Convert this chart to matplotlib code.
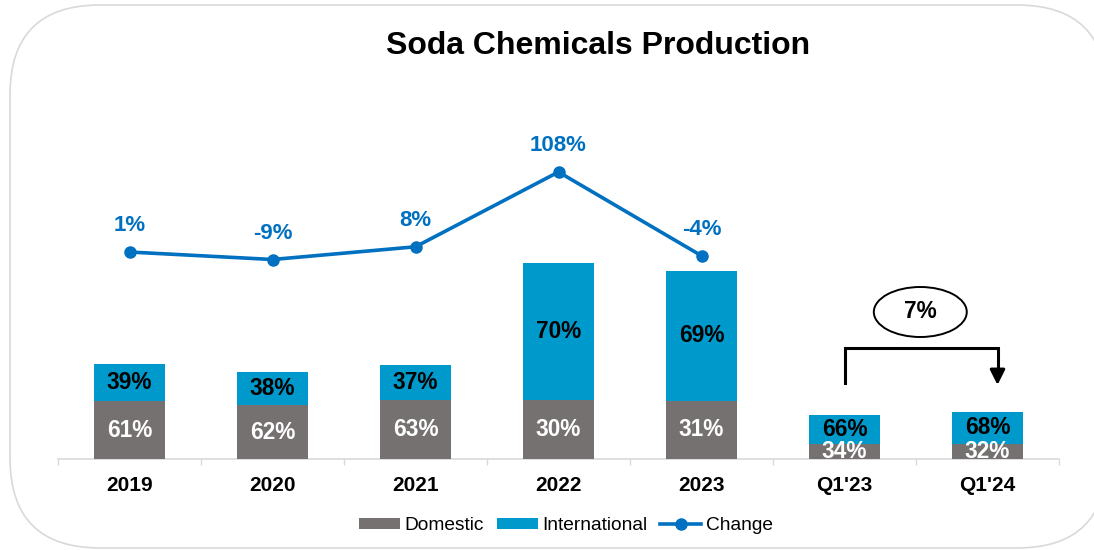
import numpy as np
import matplotlib
matplotlib.use("Agg")
import matplotlib.pyplot as plt
from matplotlib.patches import FancyBboxPatch, Ellipse, Patch
from matplotlib.lines import Line2D

# ---- data -------------------------------------------------------------
categories = ["2019", "2020", "2021", "2022", "2023", "Q1'23", "Q1'24"]
totals = [95, 87, 94, 196, 188, 44, 47]            # production volume (relative units)
domestic_share = [61, 62, 63, 30, 31, 34, 32]       # % of total
international_share = [39, 38, 37, 70, 69, 66, 68]  # % of total
change = [1, -9, 8, 108, -4, np.nan, np.nan]        # YoY change, %
quarter_change_label = "7%"

# ---- style ------------------------------------------------------------
GRAY = "#767171"
BLUE = "#0099CC"
LINE_BLUE = "#0070C0"
FONT = "Liberation Sans"
plt.rcParams["font.family"] = [FONT, "DejaVu Sans"]

W, H, DPI = 1094, 550, 100
fig = plt.figure(figsize=(W / DPI, H / DPI), dpi=DPI)
fig.patch.set_facecolor("white")

# rounded frame around the whole chart
frame = FancyBboxPatch((10 / DPI, (H - 548) / DPI), (1107 - 10) / DPI, (548 - 5) / DPI,
                       boxstyle="round,pad=0,rounding_size=0.9",
                       transform=fig.dpi_scale_trans, facecolor="white",
                       edgecolor="#D9D9D9", linewidth=1.2, zorder=-10)
fig.patches.append(frame)

# plot area in pixel terms
x0, x1 = 58, 1059
y_base, y_top = 459, 60
ax = fig.add_axes([x0 / W, (H - y_base) / H, (x1 - x0) / W, (y_base - y_top) / H])
ax.set_facecolor("none")

x = np.arange(len(categories))
dom = np.array(totals) * np.array(domestic_share) / 100.0
intl = np.array(totals) * np.array(international_share) / 100.0

bar_w = 0.5
dom_bars = ax.bar(x, dom, width=bar_w, color=GRAY, zorder=2)
int_bars = ax.bar(x, intl, width=bar_w, bottom=dom, color=BLUE, zorder=2)

ax.set_xlim(-0.5, len(categories) - 0.5)
ax.set_ylim(0, y_base - y_top)

LABEL_FS = 16.3
for i, (b, s) in enumerate(zip(dom_bars, domestic_share)):
    t = ax.text(x[i], dom[i] / 2, f"{s}%", ha="center", va="center",
                color="white", fontsize=LABEL_FS, fontweight="bold", zorder=4)
    t.set_clip_path(b)
for i, s in enumerate(international_share):
    ax.text(x[i], dom[i] + intl[i] / 2, f"{s}%", ha="center", va="center",
            color="black", fontsize=LABEL_FS, fontweight="bold", zorder=4)

# axis styling
for side in ["left", "right", "top"]:
    ax.spines[side].set_visible(False)
ax.spines["bottom"].set_color("#D9D9D9")
ax.spines["bottom"].set_linewidth(1.2)
ax.spines["bottom"].set_zorder(1)
ax.set_yticks([])
ax.set_xticks(x)
ax.set_xticklabels(categories, fontsize=15, fontweight="bold")
ax.tick_params(axis="x", which="major", length=0, pad=12.5)
ax.set_xticks(np.arange(len(categories) + 1) - 0.5, minor=True)
ax.tick_params(axis="x", which="minor", length=4.5, width=1, color="#D9D9D9", direction="out")

# change line on a secondary scale
ax2 = ax.twinx()
ax2.set_ylim(-275.7, 257.7)
ax2.axis("off")
ax2.plot(x, change, color=LINE_BLUE, linewidth=2.6, marker="o", markersize=8, zorder=5)
for xi, c in zip(x, change):
    if np.isnan(c):
        continue
    ax2.annotate(f"{c:.0f}%", (xi, c), xytext=(0, 19), textcoords="offset points",
                 ha="center", va="center", color=LINE_BLUE, fontsize=16,
                 fontweight="bold")

# quarter-over-quarter bracket
q0, q1 = 5, 6.07
ax.plot([q0, q0, q1, q1], [76, 111, 111, 88], color="black", linewidth=2.2,
        solid_joinstyle="miter", clip_on=False, zorder=6)
ax.annotate("", xy=(q1, 74), xytext=(q1, 90),
            arrowprops=dict(arrowstyle="-|>,head_length=0.9,head_width=0.45",
                            color="black", lw=2.2, shrinkA=0, shrinkB=0),
            annotation_clip=False, zorder=6)
ax.add_patch(Ellipse((5.53, 147), 0.65, 50, facecolor="white", edgecolor="black",
                     linewidth=1.4, zorder=6, clip_on=False))
ax.text(5.53, 147, quarter_change_label, ha="center", va="center", fontsize=LABEL_FS,
        fontweight="bold", zorder=7)

# title
fig.text(598 / W, 1 - 46 / H, "Soda Chemicals Production", ha="center", va="center",
         fontsize=23, fontweight="bold")

# legend
handles = [Patch(facecolor=GRAY, edgecolor="none"),
           Patch(facecolor=BLUE, edgecolor="none"),
           Line2D([0], [0], color=LINE_BLUE, linewidth=2.6, marker="o", markersize=8)]
fig.legend(handles, ["Domestic", "International", "Change"], loc="center",
           bbox_to_anchor=(566 / W, 1 - 526 / H), ncol=3, frameon=False,
           fontsize=13.8, handlelength=2.15, handleheight=0.52, handletextpad=0.25,
           columnspacing=0.65, borderaxespad=0)

fig.savefig("out.png", dpi=DPI, facecolor="white")
